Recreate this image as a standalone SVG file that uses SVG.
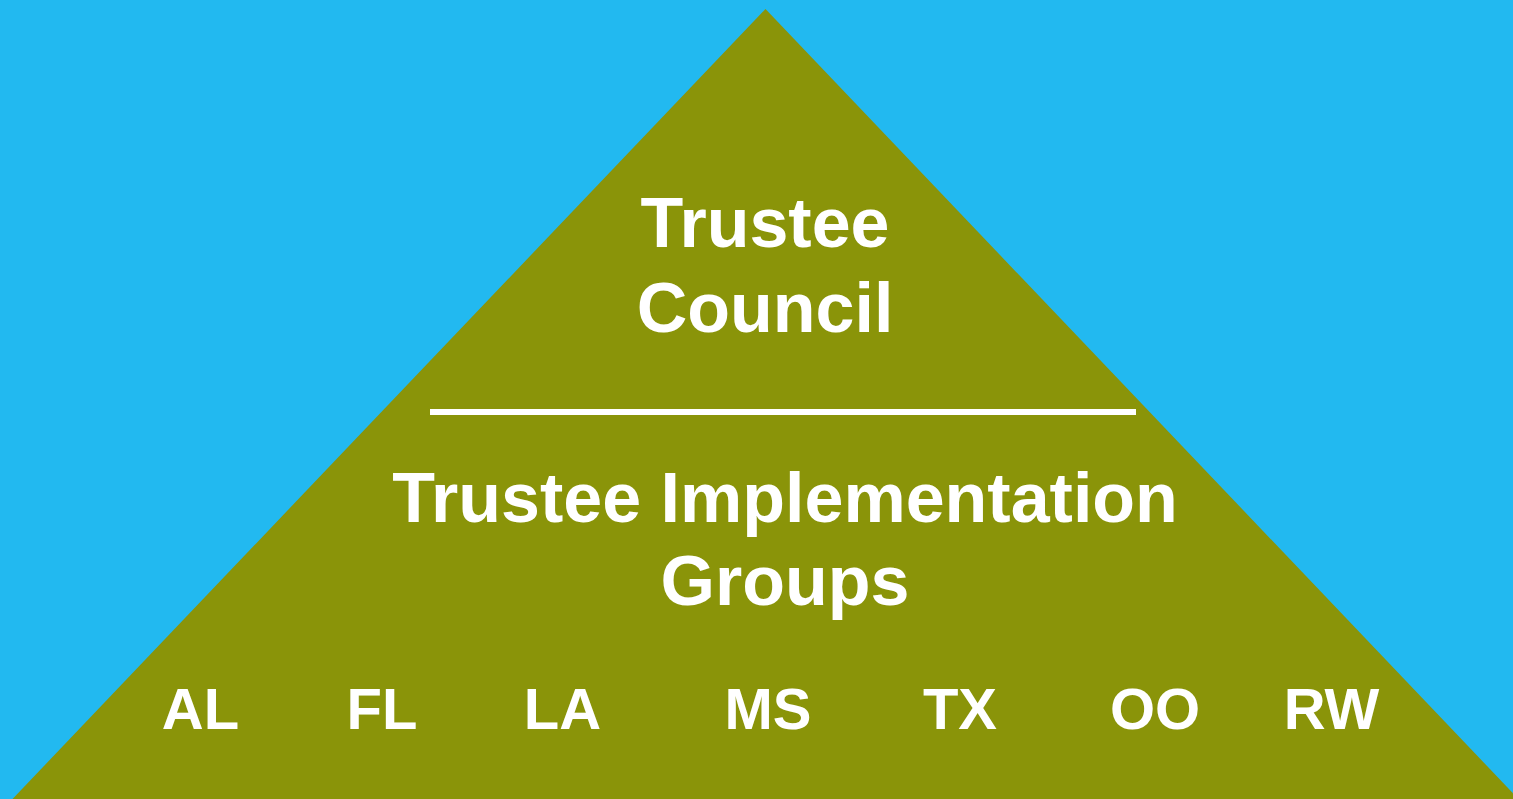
<svg xmlns="http://www.w3.org/2000/svg" width="1513" height="799" viewBox="0 0 1513 799">
<style>
.t{font-family:"Liberation Sans",Arial,sans-serif;font-weight:bold;fill:#ffffff;text-anchor:middle}
.big{font-size:70px}
.st{font-size:58px}
</style>
<rect x="0" y="0" width="1513" height="799" fill="#22B9F0"/>
<g id="pyramid">
<polygon points="765.5,9 12.5,799 1518.5,799" fill="#8A9409"/>
</g>
<g id="connectors">
<rect x="430" y="409" width="706" height="6" fill="#ffffff"/>
</g>
<g id="trustee-council">
<text class="t big" x="765" y="247">Trustee</text>
<text class="t big" x="765" y="332">Council</text>
</g>
<g id="implementation-groups">
<text class="t big" x="785" y="522">Trustee Implementation</text>
<text class="t big" x="785" y="605">Groups</text>
</g>
<g id="states">
<text class="t st" x="200.5" y="729">AL</text>
<text class="t st" x="382" y="729">FL</text>
<text class="t st" x="562.5" y="729">LA</text>
<text class="t st" x="768" y="729">MS</text>
<text class="t st" x="960" y="729">TX</text>
<text class="t st" x="1155" y="729">OO</text>
<text class="t st" x="1331.5" y="729">RW</text>
</g>
</svg>
